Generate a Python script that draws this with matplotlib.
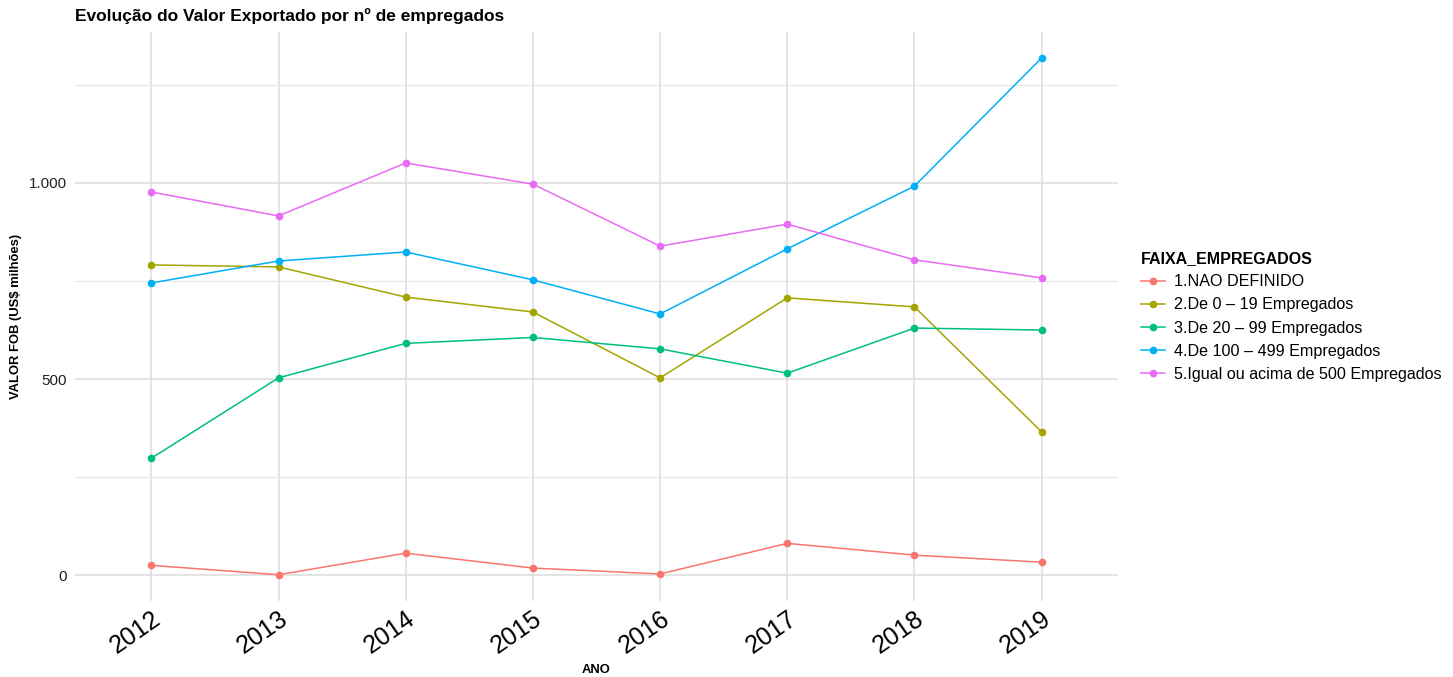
import matplotlib
matplotlib.use("Agg")
import matplotlib.pyplot as plt
from matplotlib.ticker import FuncFormatter
import numpy as np

plt.rcParams['font.family'] = ['Liberation Sans', 'DejaVu Sans']

anos = [2012, 2013, 2014, 2015, 2016, 2017, 2018, 2019]
faixas = ["1.NAO DEFINIDO", "2.De 0 – 19 Empregados", "3.De 20 – 99 Empregados",
          "4.De 100 – 499 Empregados", "5.Igual ou acima de 500 Empregados"]
nao_definido = [25, 1, 56, 18, 3, 81, 51, 33]
de_0_19 = [791, 786, 709, 671, 503, 707, 684, 365]
de_20_99 = [298, 503, 591, 606, 577, 515, 630, 625]
de_100_499 = [745, 801, 824, 753, 666, 832, 992, 1319]
acima_500 = [977, 916, 1051, 997, 839, 895, 804, 758]
series = [nao_definido, de_0_19, de_20_99, de_100_499, acima_500]
cores = ["#F8766D", "#A3A500", "#00BF7D", "#00B0F6", "#E76BF3"]

W, H = 1453, 677
fig = plt.figure(figsize=(W / 100, H / 100), dpi=100)
ax = fig.add_axes([75/W, 1-601/H, (1118-75)/W, (601-32)/H])

x = np.arange(len(anos))
for vals, nome, cor in zip(series, faixas, cores):
    ax.plot(x, vals, color=cor, lw=1.1, marker='o', ms=4.5, label=nome)

ax.set_xlim(-0.6, len(anos) - 0.4)
ymax = max(max(s) for s in series)
ax.set_ylim(-0.05 * ymax, ymax * 1.05)
ax.set_xticks(x)
ax.set_xticklabels([str(a) for a in anos], rotation=35, ha='right', va='top',
                   rotation_mode='anchor', fontsize=18)
ax.set_yticks([0, 500, 1000])
ax.set_yticks([250, 750, 1250], minor=True)
ax.yaxis.set_major_formatter(FuncFormatter(lambda v, p: f"{int(v):,}".replace(",", ".")))
ax.tick_params(axis='y', labelsize=11, length=0, pad=6)
ax.tick_params(axis='y', which='minor', length=0)
ax.tick_params(axis='x', length=0, pad=4, labelcolor='black')
for lab in ax.get_yticklabels():
    lab.set_color('#222222')

ax.grid(True, which='major', color='#dcdcdc', lw=1.1)
ax.grid(True, which='minor', axis='y', color='#e6e6e6', lw=0.8)
ax.set_axisbelow(True)
for s in ax.spines.values():
    s.set_visible(False)

ax.set_xlabel("ANO", fontsize=9.4, fontweight='bold', labelpad=4)
ax.set_ylabel("VALOR FOB (US$ milhões)", fontsize=9.4, fontweight='bold', va='center')
ax.yaxis.set_label_coords((16 - 75) / (1118 - 75), 0.5)
fig.text(75/W, 1-16/H, "Evolução do Valor Exportado por nº de empregados",
         fontsize=12.5, fontweight='bold', va='center', ha='left')

leg = ax.legend(loc='center left', bbox_to_anchor=(1 + (1141 - 1118) / (1118 - 75), 0.5),
                frameon=False, borderpad=0, borderaxespad=0,
                title="FAIXA_EMPREGADOS", fontsize=11.6, title_fontsize=11.5,
                handlelength=1.5, handletextpad=0.55, labelspacing=0.5)
leg.get_title().set_fontweight('bold')
leg._legend_box.align = "left"

fig.savefig("out.png", dpi=100)
